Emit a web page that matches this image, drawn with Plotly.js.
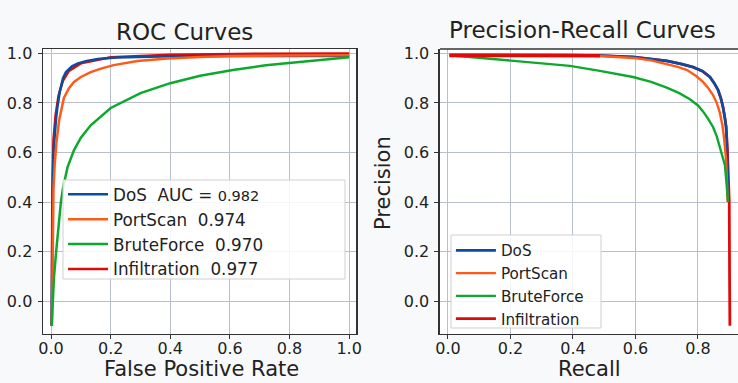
<!DOCTYPE html>
<html>
<head>
<meta charset="utf-8">
<script src="https://cdn.plot.ly/plotly-3.0.1.min.js"></script>
<style>html,body{margin:0;padding:0;background:#f8f9fa;}#chart{width:738px;height:383px;}</style>
</head>
<body>
<div id="chart"></div>
<script>
// ---- Series names and legend labels ----
const seriesNames = ["DoS", "PortScan", "BruteForce", "Infiltration"];
const rocLabels = ["DoS  AUC = <span style=\"font-size:14.5px\">0.982</span>", "PortScan  0.974", "BruteForce  0.970", "Infiltration  0.977"];
const tickValues = [0, 0.2, 0.4, 0.6, 0.8, 1.0];
const tickLabels = ["0.0", "0.2", "0.4", "0.6", "0.8", "1.0"];

// ---- ROC curves (FPR, TPR) ----
const rocDoS_x = [0.002, 0.003, 0.005, 0.008, 0.012, 0.017, 0.022, 0.03, 0.04, 0.05, 0.07, 0.09, 0.12, 0.157, 0.22, 0.29, 0.4, 0.6, 0.8, 1.0];
const rocDoS_y = [-0.1, 0.2, 0.45, 0.6, 0.68, 0.74, 0.79, 0.85, 0.9, 0.925, 0.948, 0.96, 0.97, 0.978, 0.984, 0.987, 0.989, 0.99, 0.99, 0.99];
const rocPort_x = [0.003, 0.005, 0.008, 0.012, 0.018, 0.027, 0.035, 0.043, 0.06, 0.077, 0.1, 0.133, 0.17, 0.21, 0.29, 0.39, 0.5, 0.61, 0.8, 1.0];
const rocPort_y = [-0.1, 0.3, 0.45, 0.55, 0.64, 0.73, 0.78, 0.82, 0.86, 0.885, 0.905, 0.925, 0.94, 0.953, 0.97, 0.98, 0.986, 0.99, 0.992, 0.993];
const rocBrute_x = [0.002, 0.005, 0.01, 0.017, 0.025, 0.033, 0.04, 0.055, 0.077, 0.1, 0.133, 0.2, 0.3, 0.4, 0.5, 0.61, 0.72, 0.83, 0.92, 1.0];
const rocBrute_y = [-0.1, 0.0, 0.1, 0.2, 0.3, 0.4, 0.456, 0.54, 0.61, 0.66, 0.71, 0.78, 0.84, 0.88, 0.91, 0.933, 0.952, 0.966, 0.976, 0.985];
const rocInf_x = [0.002, 0.004, 0.008, 0.015, 0.025, 0.04, 0.06, 0.1, 0.2, 0.4, 0.7, 1.0];
const rocInf_y = [-0.1, 0.4, 0.65, 0.75, 0.83, 0.89, 0.93, 0.96, 0.985, 0.995, 0.999, 1.0];

// ---- Precision-Recall curves (Recall, Precision) ----
const prDoS_x = [0.005, 0.2, 0.4, 0.486, 0.592, 0.65, 0.70, 0.745, 0.784, 0.815, 0.838, 0.852, 0.864, 0.873, 0.88, 0.886, 0.89, 0.893, 0.895, 0.897];
const prDoS_y = [0.993, 0.993, 0.993, 0.992, 0.986, 0.979, 0.97, 0.958, 0.945, 0.928, 0.905, 0.88, 0.853, 0.82, 0.784, 0.74, 0.703, 0.61, 0.5, 0.4];
const prPort_x = [0.005, 0.2, 0.4, 0.486, 0.592, 0.65, 0.70, 0.735, 0.765, 0.795, 0.816, 0.833, 0.848, 0.86, 0.87, 0.878, 0.883, 0.888, 0.89, 0.893, 0.895];
const prPort_y = [0.997, 0.997, 0.995, 0.99, 0.982, 0.972, 0.958, 0.946, 0.933, 0.908, 0.885, 0.86, 0.832, 0.8, 0.76, 0.71, 0.663, 0.6, 0.57, 0.48, 0.4];
const prBrute_x = [0.005, 0.1, 0.19, 0.3, 0.39, 0.486, 0.592, 0.65, 0.70, 0.74, 0.774, 0.8, 0.816, 0.833, 0.848, 0.86, 0.87, 0.878, 0.886, 0.891, 0.896];
const prBrute_y = [0.993, 0.983, 0.974, 0.962, 0.95, 0.93, 0.905, 0.885, 0.862, 0.84, 0.815, 0.79, 0.766, 0.735, 0.703, 0.665, 0.622, 0.59, 0.55, 0.48, 0.4];
const prInf_x = [0.005, 0.2, 0.4, 0.486, 0.592, 0.65, 0.70, 0.745, 0.784, 0.815, 0.838, 0.852, 0.864, 0.873, 0.88, 0.886, 0.89, 0.894, 0.898, 0.9, 0.901, 0.902];
const prInf_y = [0.992, 0.992, 0.992, 0.991, 0.986, 0.979, 0.97, 0.958, 0.945, 0.928, 0.905, 0.88, 0.853, 0.82, 0.784, 0.74, 0.703, 0.62, 0.5, 0.4, 0.1, -0.1];
const prInfTopCount = 4; // leading flat points of the Infiltration PR curve, drawn on top

const colors = {DoS: "#0a4d9e", PortScan: "#ff5a1a", BruteForce: "#0fa82e", Infiltration: "#e00a0a"};

const FONT = "DejaVu Sans, Verdana, sans-serif";
const traces = [
  // ROC (Infiltration drawn first, underneath)
  {x: rocInf_x, y: rocInf_y, name: rocLabels[3], legendrank: 4, legend: "legend", xaxis: "x", yaxis: "y", mode: "lines", line: {color: colors.Infiltration, width: 2.5}},
  {x: rocDoS_x, y: rocDoS_y, name: rocLabels[0], legendrank: 1, legend: "legend", xaxis: "x", yaxis: "y", mode: "lines", line: {color: colors.DoS, width: 2.5}},
  {x: rocPort_x, y: rocPort_y, name: rocLabels[1], legendrank: 2, legend: "legend", xaxis: "x", yaxis: "y", mode: "lines", line: {color: colors.PortScan, width: 2.5}},
  {x: rocBrute_x, y: rocBrute_y, name: rocLabels[2], legendrank: 3, legend: "legend", xaxis: "x", yaxis: "y", mode: "lines", line: {color: colors.BruteForce, width: 2.5}},
  // PR
  {x: prInf_x, y: prInf_y, name: seriesNames[3], legendrank: 4, legend: "legend2", xaxis: "x2", yaxis: "y2", mode: "lines", line: {color: colors.Infiltration, width: 2.8}},
  {x: prDoS_x, y: prDoS_y, name: seriesNames[0], legendrank: 1, legend: "legend2", xaxis: "x2", yaxis: "y2", mode: "lines", line: {color: colors.DoS, width: 2.6}},
  {x: prPort_x, y: prPort_y, name: seriesNames[1], legendrank: 2, legend: "legend2", xaxis: "x2", yaxis: "y2", mode: "lines", line: {color: colors.PortScan, width: 2.4}},
  {x: prBrute_x, y: prBrute_y, name: seriesNames[2], legendrank: 3, legend: "legend2", xaxis: "x2", yaxis: "y2", mode: "lines", line: {color: colors.BruteForce, width: 2.4}},
  {x: prInf_x.slice(0, prInfTopCount), y: prInf_y.slice(0, prInfTopCount), showlegend: false, xaxis: "x2", yaxis: "y2", mode: "lines", line: {color: colors.Infiltration, width: 3.5}}
];

const axisCommon = {
  tickvals: tickValues, ticktext: tickLabels,
  showgrid: true, gridcolor: "#b9c0cc", gridwidth: 1,
  zeroline: false, showline: true, linecolor: "#333", linewidth: 1.5,
  ticks: "outside", ticklen: 4, tickcolor: "#333", tickwidth: 1,
  tickfont: {family: FONT, size: 16, color: "#222"}, fixedrange: true
};
const xAxisCommon = Object.assign({}, axisCommon, {ticklabelstandoff: -5});
const yAxisCommon = Object.assign({}, axisCommon, {ticklabelstandoff: 2});

const legendFont = {family: FONT, color: "#222"};
const layout = {
  width: 738, height: 383,
  margin: {l: 0, r: 0, t: 0, b: 0},
  paper_bgcolor: "#f8f9fa", plot_bgcolor: "#ffffff",
  font: {family: FONT, color: "#222"},
  xaxis: Object.assign({}, xAxisCommon, {domain: [0.0583, 0.4824], range: [-0.027, 1.023], anchor: "y", mirror: true}),
  yaxis: Object.assign({}, yAxisCommon, {domain: [0.128, 0.872], range: [-0.133, 1.018], anchor: "x", mirror: true}),
  xaxis2: Object.assign({}, xAxisCommon, {domain: [0.5962, 1.0], range: [-0.0256, 0.928], anchor: "y2"}),
  yaxis2: Object.assign({}, yAxisCommon, {domain: [0.128, 0.872], range: [-0.133, 1.018], anchor: "x2"}),
  showlegend: true,
  legend: {x: 0.0854, y: 0.538, xanchor: "left", yanchor: "top", bgcolor: "rgba(0,0,0,0)", borderwidth: 0,
           font: Object.assign({size: 16.8}, legendFont), itemwidth: 40, tracegroupgap: 0},
  legend2: {x: 0.611, y: 0.389, xanchor: "left", yanchor: "top", bgcolor: "rgba(0,0,0,0)", borderwidth: 0,
           font: Object.assign({size: 15.2}, legendFont), itemwidth: 40, tracegroupgap: 0},
  shapes: [
    {type: "line", xref: "x2 domain", yref: "y2 domain", x0: 0, x1: 1, y0: 1, y1: 1, line: {color: "#333", width: 1.5}},
    {type: "rect", layer: "above", xref: "paper", yref: "paper", x0: 63/738, x1: 345/738, y0: 1 - 279/383, y1: 1 - 180/383,
     fillcolor: "rgba(255,255,255,0.85)", line: {color: "#cfcfcf", width: 1}},
    {type: "rect", layer: "above", xref: "paper", yref: "paper", x0: 451/738, x1: 601/738, y0: 1 - 328/383, y1: 1 - 235/383,
     fillcolor: "rgba(255,255,255,0.85)", line: {color: "#cfcfcf", width: 1}}
  ],
  annotations: [
    {text: "ROC Curves", x: 185/738, y: 1 - 32/383, xref: "paper", yref: "paper", xanchor: "center", yanchor: "middle", showarrow: false, font: {family: FONT, size: 23, color: "#222"}},
    {text: "Precision-Recall Curves", x: 582/738, y: 1 - 30/383, xref: "paper", yref: "paper", xanchor: "center", yanchor: "middle", showarrow: false, font: {family: FONT, size: 23, color: "#222"}},
    {text: "False Positive Rate", x: 201/738, y: 1 - 369/383, xref: "paper", yref: "paper", xanchor: "center", yanchor: "middle", showarrow: false, font: {family: FONT, size: 21, color: "#222"}},
    {text: "Recall", x: 589/738, y: 1 - 369/383, xref: "paper", yref: "paper", xanchor: "center", yanchor: "middle", showarrow: false, font: {family: FONT, size: 21, color: "#222"}},
    {text: "Precision", x: 383/738, y: 1 - 183/383, xref: "paper", yref: "paper", xanchor: "center", yanchor: "middle", textangle: -90, showarrow: false, font: {family: FONT, size: 21, color: "#222"}}
  ]
};

Plotly.newPlot("chart", traces, layout, {displayModeBar: false, staticPlot: true});
</script>
</body>
</html>
